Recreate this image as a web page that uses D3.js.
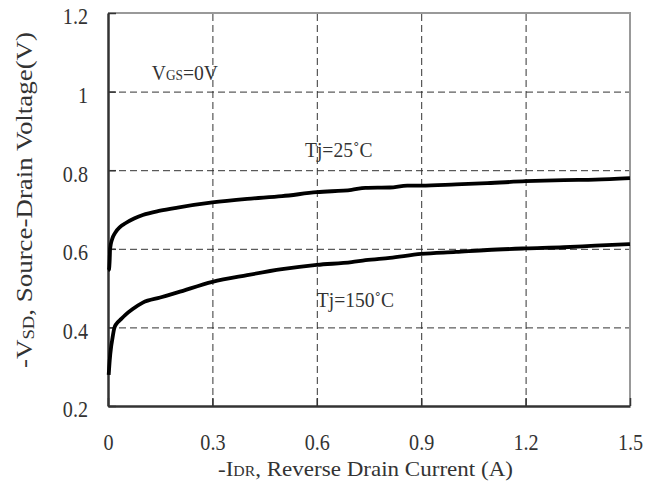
<!DOCTYPE html>
<html>
<head>
<meta charset="utf-8">
<script src="https://cdn.jsdelivr.net/npm/d3@7"></script>
<style>
  body { margin: 0; background: #fff; }
  text { font-family: "Liberation Serif", "Times New Roman", serif; fill: #333; }
</style>
</head>
<body>
<svg id="chart" width="654" height="490"></svg>
<script>
// axis ticks
const currentTicks = [0, 0.3, 0.6, 0.9, 1.2, 1.5];
const voltageTicks = [0.2, 0.4, 0.6, 0.8, 1, 1.2];

// Tj = 25 C
const current25 = [0, 0.003, 0.005, 0.006, 0.012, 0.02, 0.035, 0.05, 0.075, 0.1, 0.15, 0.2, 0.3, 0.4, 0.5, 0.6, 0.7, 0.74, 0.81, 0.86, 0.9, 1.0, 1.09, 1.2, 1.31, 1.4, 1.5];
const voltage25 = [0.545, 0.548, 0.575, 0.6, 0.625, 0.64, 0.656, 0.665, 0.677, 0.686, 0.697, 0.705, 0.718, 0.727, 0.734, 0.744, 0.75, 0.755, 0.756, 0.761, 0.761, 0.764, 0.767, 0.772, 0.775, 0.776, 0.78];

// Tj = 150 C
const current150 = [0.002, 0.005, 0.009, 0.012, 0.018, 0.025, 0.035, 0.05, 0.07, 0.1, 0.15, 0.2, 0.3, 0.4, 0.5, 0.6, 0.7, 0.74, 0.81, 0.9, 1.0, 1.09, 1.2, 1.31, 1.4, 1.5];
const voltage150 = [0.279, 0.317, 0.351, 0.368, 0.398, 0.41, 0.419, 0.432, 0.446, 0.463, 0.476, 0.489, 0.516, 0.533, 0.548, 0.559, 0.566, 0.571, 0.577, 0.587, 0.592, 0.597, 0.601, 0.604, 0.608, 0.612];

const margin = { top: 13, right: 24, bottom: 84, left: 108 };
const width = 654 - margin.left - margin.right;
const height = 490 - margin.top - margin.bottom;
const squeeze = 0.84; // narrow serif look of the tick digits
const noteSqueeze = 0.89;

const svg = d3.select('#chart');
const g = svg.append('g').attr('transform', `translate(${margin.left},${margin.top})`);

const x = d3.scaleLinear().domain([0, 1.5]).range([0, width]);
const y = d3.scaleLinear().domain([0.2, 1.2]).range([height, 0]);

// dashed grid
g.append('g')
  .attr('class', 'grid')
  .call(d3.axisLeft(y).tickValues(voltageTicks.slice(1, -1)).tickSize(-width).tickFormat(''))
  .call((s) => s.select('.domain').remove());
g.append('g')
  .attr('class', 'grid')
  .attr('transform', `translate(0,${height})`)
  .call(d3.axisBottom(x).tickValues(currentTicks.slice(1, -1)).tickSize(-height).tickFormat(''))
  .call((s) => s.select('.domain').remove());
g.selectAll('.grid line')
  .attr('stroke', '#333')
  .attr('stroke-width', 1)
  .attr('stroke-dasharray', '7,4');

// top / right frame (grey)
g.append('path')
  .attr('d', `M0,0H${width}V${height}`)
  .attr('fill', 'none')
  .attr('stroke', '#999')
  .attr('stroke-width', 2);

// axes with inward ticks
const yAxis = g.append('g')
  .call(d3.axisLeft(y).tickValues(voltageTicks).tickSizeInner(-8).tickSizeOuter(0)
    .tickPadding(20 / squeeze).tickFormat((d) => String(d)));
const xAxis = g.append('g')
  .attr('transform', `translate(0,${height})`)
  .call(d3.axisBottom(x).tickValues(currentTicks).tickSizeInner(-8).tickSizeOuter(0)
    .tickPadding(27).tickFormat((d) => String(d)));

[yAxis, xAxis].forEach((a) => {
  a.select('.domain').attr('stroke', '#333').attr('stroke-width', 2.5);
  a.selectAll('.tick line').attr('stroke', '#333').attr('stroke-width', 1.5);
  a.selectAll('.tick text')
    .attr('font-size', 24)
    .attr('font-family', '"Liberation Serif", serif')
    .attr('fill', '#333')
    .attr('transform', `scale(${squeeze},1)`);
});
yAxis.selectAll('.tick text').attr('dy', '0.45em');

// curves
const line = d3.line()
  .x((d) => x(d[0]))
  .y((d) => y(d[1]))
  .curve(d3.curveMonotoneX);

[[current25, voltage25], [current150, voltage150]].forEach(([cs, vs]) => {
  g.append('path')
    .datum(d3.zip(cs, vs))
    .attr('d', line)
    .attr('fill', 'none')
    .attr('stroke', '#000')
    .attr('stroke-width', 3.8)
    .attr('stroke-linejoin', 'round');
});

// annotations
const note = (px, py, parts) => {
  const t = g.append('text')
    .attr('transform', `translate(${x(px)},${y(py)}) scale(${noteSqueeze},1)`)
    .attr('font-size', 22);
  parts.forEach(([txt, sub]) => {
    t.append('tspan')
      .attr('font-size', sub ? 15 : null)
      .text(txt);
  });
  return t;
};
note(0.126, 1.03, [['V'], ['GS', true], ['=0V']]);
note(0.566, 0.834, [['Tj=25˚C']]);
note(0.6, 0.452, [['Tj=150˚C']]);

// axis titles
const xTitle = svg.append('text')
  .attr('x', 218)
  .attr('y', 476)
  .attr('font-size', 22)
  .attr('textLength', 295)
  .attr('lengthAdjust', 'spacingAndGlyphs');
xTitle.append('tspan').text('-I');
xTitle.append('tspan').attr('font-size', 15).text('DR');
xTitle.append('tspan').text(', Reverse Drain Current (A)');

const yTitle = svg.append('text')
  .attr('transform', 'translate(32,368) rotate(-90)')
  .attr('font-size', 23)
  .attr('textLength', 336)
  .attr('lengthAdjust', 'spacingAndGlyphs');
yTitle.append('tspan').text('-V');
yTitle.append('tspan').attr('font-size', 16).attr('dy', 2).text('SD');
yTitle.append('tspan').attr('dy', -2).text(', Source-Drain Voltage(V)');
</script>
</body>
</html>
